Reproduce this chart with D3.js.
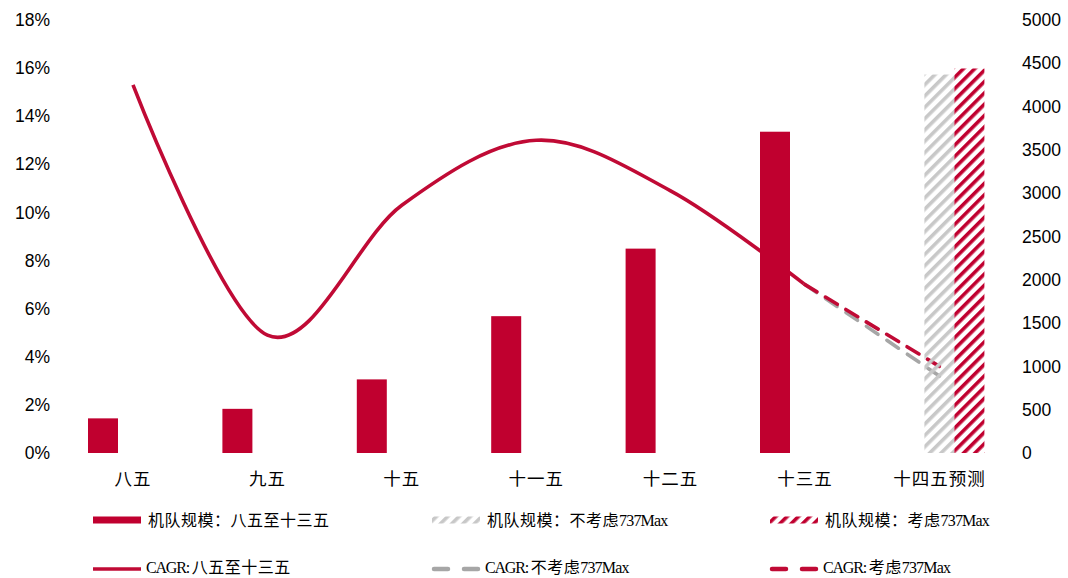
<!DOCTYPE html>
<html><head><meta charset="utf-8">
<script src="https://cdn.jsdelivr.net/npm/d3@7"></script>
<style>body{margin:0;background:#fff}svg{display:block}</style>
</head><body>
<svg id="c" width="1068" height="578"></svg>
<script>
const categories = ["八五","九五","十五","十一五","十二五","十三五","十四五预测"];
const fleetBase = [400, 510, 850, 1580, 2360, 3710, null];
const fleetNoMax = [null, null, null, null, null, null, 4370];
const fleetWithMax = [null, null, null, null, null, null, 4440];
const cagrBase = [15.3, 4.9, 10.3, 13.0, 10.9, 7.0, null];
const cagrNoMax = [null, null, null, null, null, 7.0, 3.2];
const cagrWithMax = [null, null, null, null, null, 7.0, 3.6];
const leftTicks = [0,2,4,6,8,10,12,14,16,18];
const rightTicks = [0,500,1000,1500,2000,2500,3000,3500,4000,4500,5000];
const legendLabels = ["机队规模：八五至十三五","机队规模：不考虑737Max","机队规模：考虑737Max","CAGR: 八五至十三五","CAGR: 不考虑737Max","CAGR: 考虑737Max"];

const RED = "#C0002F", LRED = "#C00A35", GRAYH = "#C8C8C8", GRAYD = "#A6A6A6";
const svg = d3.select("#c");
const plotTop = 20, plotBottom = 453;
const x = d3.scaleBand().domain(categories).range([65.8, 1006.6]).padding(0);
const slots = ["base","nomax","withmax"];
const bw = x.bandwidth();
const x1 = d3.scaleBand().domain(slots).range([bw/2 - 45, bw/2 + 45]);
const yL = d3.scaleLinear().domain([0,18]).range([plotBottom, plotTop]);
const yR = d3.scaleLinear().domain([0,5000]).range([plotBottom, plotTop]);

const defs = svg.append("defs");
function hatch(id, color){
  const p = defs.append("pattern").attr("id", id).attr("patternUnits","userSpaceOnUse")
    .attr("width", 8).attr("height", 8).attr("patternTransform","rotate(45)");
  p.append("rect").attr("x",0).attr("y",0).attr("width",3.6).attr("height",8).attr("fill",color);
}
hatch("hg", GRAYH); hatch("hr", RED);

// axes
const axL = svg.append("g").attr("transform","translate(50,0)")
  .call(d3.axisLeft(yL).tickValues(leftTicks).tickSize(0).tickPadding(0).tickFormat(d => d + "%"));
const axR = svg.append("g").attr("transform","translate(1022,0)")
  .call(d3.axisRight(yR).tickValues(rightTicks).tickSize(0).tickPadding(0).tickFormat(d3.format("d")));
[axL, axR].forEach(a => {
  a.select(".domain").remove();
  a.selectAll("text").attr("font-family","Liberation Sans, Arial, sans-serif").attr("font-size","17.5px").attr("fill","#000");
});
const axX = svg.append("g").attr("transform",`translate(0,${plotBottom})`)
  .call(d3.axisBottom(x).tickSize(0).tickPadding(0));
axX.select(".domain").remove();
axX.selectAll("text").attr("font-family","Noto Sans CJK SC, sans-serif").attr("font-size","17.5px").attr("fill","#000")
  .attr("letter-spacing","1px").attr("dy", null).attr("y", 24).attr("dominant-baseline","central");

// lines
const cx = c => x(c) + bw/2;
const baseData = categories.map((c,i)=>({c, v: cagrBase[i]})).filter(d=>d.v!=null);
const line = d3.line().x(d=>cx(d.c)).y(d=>yL(d.v));
svg.append("path").attr("d", line.curve(d3.curveCardinal.tension(0))(baseData))
  .attr("fill","none").attr("stroke",LRED).attr("stroke-width",3.6);
const lin = d3.line().x(d=>cx(d.c)).y(d=>yL(d.v)).curve(d3.curveLinear);
[[cagrNoMax, GRAYD],[cagrWithMax, LRED]].forEach(([arr,col])=>{
  const dd = categories.map((c,i)=>({c, v: arr[i]})).filter(d=>d.v!=null);
  const p = svg.append("path").attr("d", lin(dd)).attr("fill","none").attr("stroke",col)
    .attr("stroke-width",3.6).attr("stroke-linecap","round");
  const L = p.node().getTotalLength();
  const dash = 14, gap = (L - 7*dash) / 6;
  p.attr("stroke-dasharray", `${dash},${gap}`);
});

// bars
const series = [[fleetBase,"base",RED],[fleetNoMax,"nomax","url(#hg)"],[fleetWithMax,"withmax","url(#hr)"]];
series.forEach(([arr,slot,fill])=>{
  svg.append("g").selectAll("rect").data(categories.map((c,i)=>({c,v:arr[i]})).filter(d=>d.v!=null))
    .join("rect").attr("x", d=>x(d.c)+x1(slot)).attr("width", x1.bandwidth())
    .attr("y", d=>yR(d.v)).attr("height", d=>yR(0)-yR(d.v)).attr("fill", fill);
});

// legend
const lg = svg.append("g");
const colsX = [93, 432, 770];
const rowsY = [520, 569];
const sw = 48;
lg.append("rect").attr("x",colsX[0]).attr("y",rowsY[0]-3.5).attr("width",sw).attr("height",7).attr("fill",RED);
lg.append("rect").attr("x",colsX[1]).attr("y",rowsY[0]-3.5).attr("width",sw).attr("height",7).attr("fill","url(#hg)");
lg.append("rect").attr("x",colsX[2]).attr("y",rowsY[0]-3.5).attr("width",sw).attr("height",7).attr("fill","url(#hr)");
lg.append("line").attr("x1",colsX[0]).attr("x2",colsX[0]+sw).attr("y1",rowsY[1]).attr("y2",rowsY[1]).attr("stroke",LRED).attr("stroke-width",3.6);
lg.append("line").attr("x1",colsX[1]+2).attr("x2",colsX[1]+sw).attr("y1",rowsY[1]).attr("y2",rowsY[1]).attr("stroke",GRAYD).attr("stroke-width",4.5).attr("stroke-dasharray","14,16").attr("stroke-linecap","round");
lg.append("line").attr("x1",colsX[2]+2).attr("x2",colsX[2]+sw).attr("y1",rowsY[1]).attr("y2",rowsY[1]).attr("stroke",LRED).attr("stroke-width",4.5).attr("stroke-dasharray","14,16").attr("stroke-linecap","round");

// legend labels: one text per entry, Latin runs tightened toward half-width metrics
legendLabels.forEach((t,i)=>{
  const col = i % 3, row = Math.floor(i/3);
  const txt = lg.append("text").attr("x", colsX[col] + sw + (row===0?7:5)).attr("y", rowsY[row] + (row===0?5.5:3.5))
    .attr("font-family","Liberation Serif, serif").attr("font-size","16px").attr("fill","#000");
  const runs = t.match(/[\u0000-\u00ff]+|[^\u0000-\u00ff]+/g);
  runs.forEach(r=>{
    const latin = /^[\u0000-\u00ff]/.test(r);
    txt.append("tspan")
      .attr("font-family", latin ? "Liberation Serif, serif" : "Noto Sans CJK SC, sans-serif")
      .attr("letter-spacing", latin ? (r.startsWith("CAGR") ? "-1.2px" : "-0.8px") : "0.5px")
      .text(r);
  });
});
</script>
</body></html>
